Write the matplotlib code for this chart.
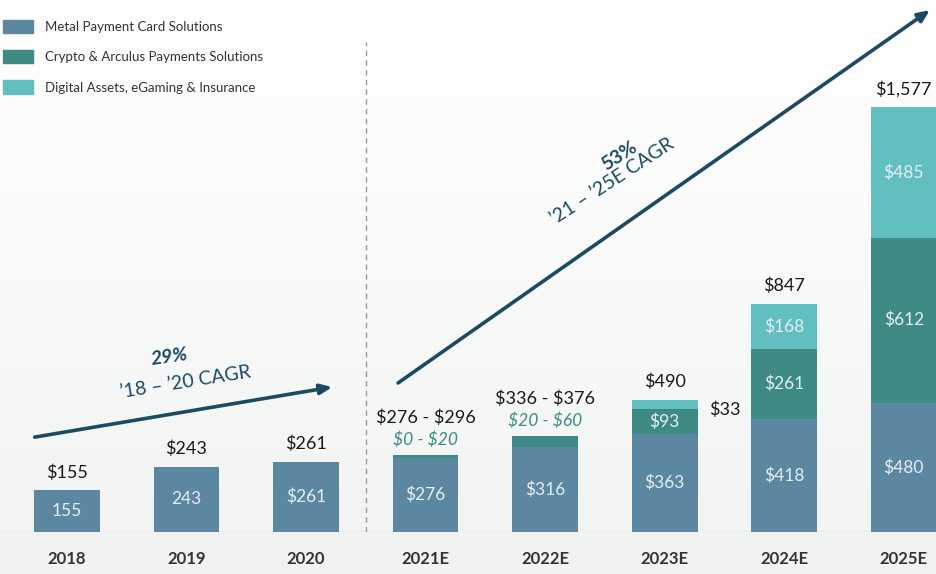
import numpy as np
import matplotlib
matplotlib.use("Agg")
import matplotlib.pyplot as plt
from matplotlib.patches import Patch

plt.rcParams['font.family'] = ['Lato', 'DejaVu Sans']
plt.rcParams['text.parse_math'] = False

# data ($M)
years = ["2018", "2019", "2020", "2021E", "2022E", "2023E", "2024E", "2025E"]
metal = [155, 243, 261, 276, 316, 363, 418, 480]
crypto = [0, 0, 0, 10, 40, 93, 261, 612]
digital = [0, 0, 0, 0, 0, 33, 168, 485]
series_names = ["Metal Payment Card Solutions",
                "Crypto & Arculus Payments Solutions",
                "Digital Assets, eGaming & Insurance"]
top_labels = ["$155", "$243", "$261", "$276 - $296", "$336 - $376", "$490", "$847", "$1,577"]
metal_labels = ["155", "243", "$261", "$276", "$316", "$363", "$418", "$480"]
crypto_labels = ["", "", "", "", "", "$93", "$261", "$612"]
digital_labels = ["", "", "", "", "", "", "$168", "$485"]
range_labels = {3: "$0 - $20", 4: "$20 - $60"}

c_metal = "#5b87a1"
c_crypto = "#3e8a84"
c_digital = "#62bfc0"
navy = "#1c4a63"

fig = plt.figure(figsize=(9.36, 5.74), dpi=100)
# soft background gradient
bg = fig.add_axes([0, 0, 1, 1], zorder=-10)
grad = np.linspace(0, 1, 256).reshape(-1, 1)
bg.imshow(grad, aspect="auto", cmap=matplotlib.colors.LinearSegmentedColormap.from_list(
    "bg", ["#ffffff", "#f1f3f3"]), extent=[0, 1, 0, 1])
bg.axis("off")

ax = fig.add_axes([0, 42 / 574, 1, 532 / 574])
ax.patch.set_alpha(0)
x = np.arange(len(years))
w = 0.55
metal = np.array(metal)
crypto = np.array(crypto)
digital = np.array(digital)
ax.bar(x, metal, w, color=c_metal, zorder=2)
ax.bar(x, crypto, w, bottom=metal, color=c_crypto, zorder=2)
ax.bar(x, digital, w, bottom=metal + crypto, color=c_digital, zorder=2)

ax.set_xlim(-0.56, 7.27)
ax.set_ylim(0, 532 / 0.2695)
for s in ax.spines.values():
    s.set_visible(False)
ax.set_yticks([])
ax.set_xticks(x)
ax.set_xticklabels(years, fontsize=12, fontweight="bold", color="#333333")
ax.tick_params(axis="x", length=0, pad=14)
ax.axhline(0, color="#d0d4d6", lw=1, zorder=1)
ax.plot([2.5, 2.5], [0, 1820], ls=(0, (4, 3)), color="#9a9a9a", lw=1, zorder=1)

totals = metal + crypto + digital
for i in range(len(years)):
    ax.text(x[i], metal[i] / 2, metal_labels[i], ha="center", va="center",
            color="#e4eef2", fontsize=12.5, zorder=3)
    if crypto_labels[i]:
        ax.text(x[i], metal[i] + crypto[i] / 2, crypto_labels[i], ha="center",
                va="center", color="#e4eef2", fontsize=12.5, zorder=3)
    if digital_labels[i]:
        ax.text(x[i], metal[i] + crypto[i] + digital[i] / 2, digital_labels[i],
                ha="center", va="center", color="#e4eef2", fontsize=12.5, zorder=3)
    if i in range_labels:
        ax.annotate(range_labels[i], (x[i], totals[i]), xytext=(0, 5),
                    textcoords="offset points", ha="center", va="bottom",
                    fontsize=12.5, style="italic", color="#3e8a84")
        ax.annotate(top_labels[i], (x[i], totals[i]), xytext=(0, 21),
                    textcoords="offset points", ha="center", va="bottom",
                    fontsize=13, color="#1a1a1a")
    else:
        ax.annotate(top_labels[i], (x[i], totals[i]), xytext=(0, 7),
                    textcoords="offset points", ha="center", va="bottom",
                    fontsize=13, color="#1a1a1a")

# side label for the small digital segment in 2023E
ax.annotate("$" + str(digital[5]), (x[5] + w / 2, totals[5]), xytext=(8, -1),
            textcoords="offset points", ha="left", va="top", fontsize=13,
            color="#1a1a1a")

# CAGR arrows
ax.annotate("", xy=(2.22, 538), xytext=(-0.27, 352),
            arrowprops=dict(arrowstyle="-|>,head_length=0.7,head_width=0.3",
                            color=navy, lw=2.6, shrinkA=0, shrinkB=0))
ax.text(0.86, 650, "29%", rotation=8, ha="center", va="center", fontsize=14,
        fontweight="bold", style="italic", color=navy)
ax.text(0.99, 555, "\u201918 \u2013 \u201920 CAGR", rotation=9, ha="center",
        va="center", fontsize=14, color=navy)
ax.annotate("", xy=(7.22, 1937), xytext=(2.77, 553),
            arrowprops=dict(arrowstyle="-|>,head_length=0.7,head_width=0.3",
                            color=navy, lw=2.6, shrinkA=0, shrinkB=0))
ax.text(4.62, 1395, "53%", rotation=33, ha="center", va="center", fontsize=14,
        fontweight="bold", color=navy)
ax.text(4.56, 1300, "\u201921 \u2013 \u201925E CAGR", rotation=33, ha="center",
        va="center", fontsize=14, color=navy)

handles = [Patch(color=c) for c in (c_metal, c_crypto, c_digital)]
fig.legend(handles, series_names, loc="upper left", bbox_to_anchor=(3 / 936, 1 - 20 / 574),
           frameon=False, fontsize=9.5, handlelength=2.3, handleheight=1.15,
           labelspacing=1.3, handletextpad=0.85, borderpad=0, borderaxespad=0,
           labelcolor="#333333")

fig.savefig("out.png", dpi=100)
